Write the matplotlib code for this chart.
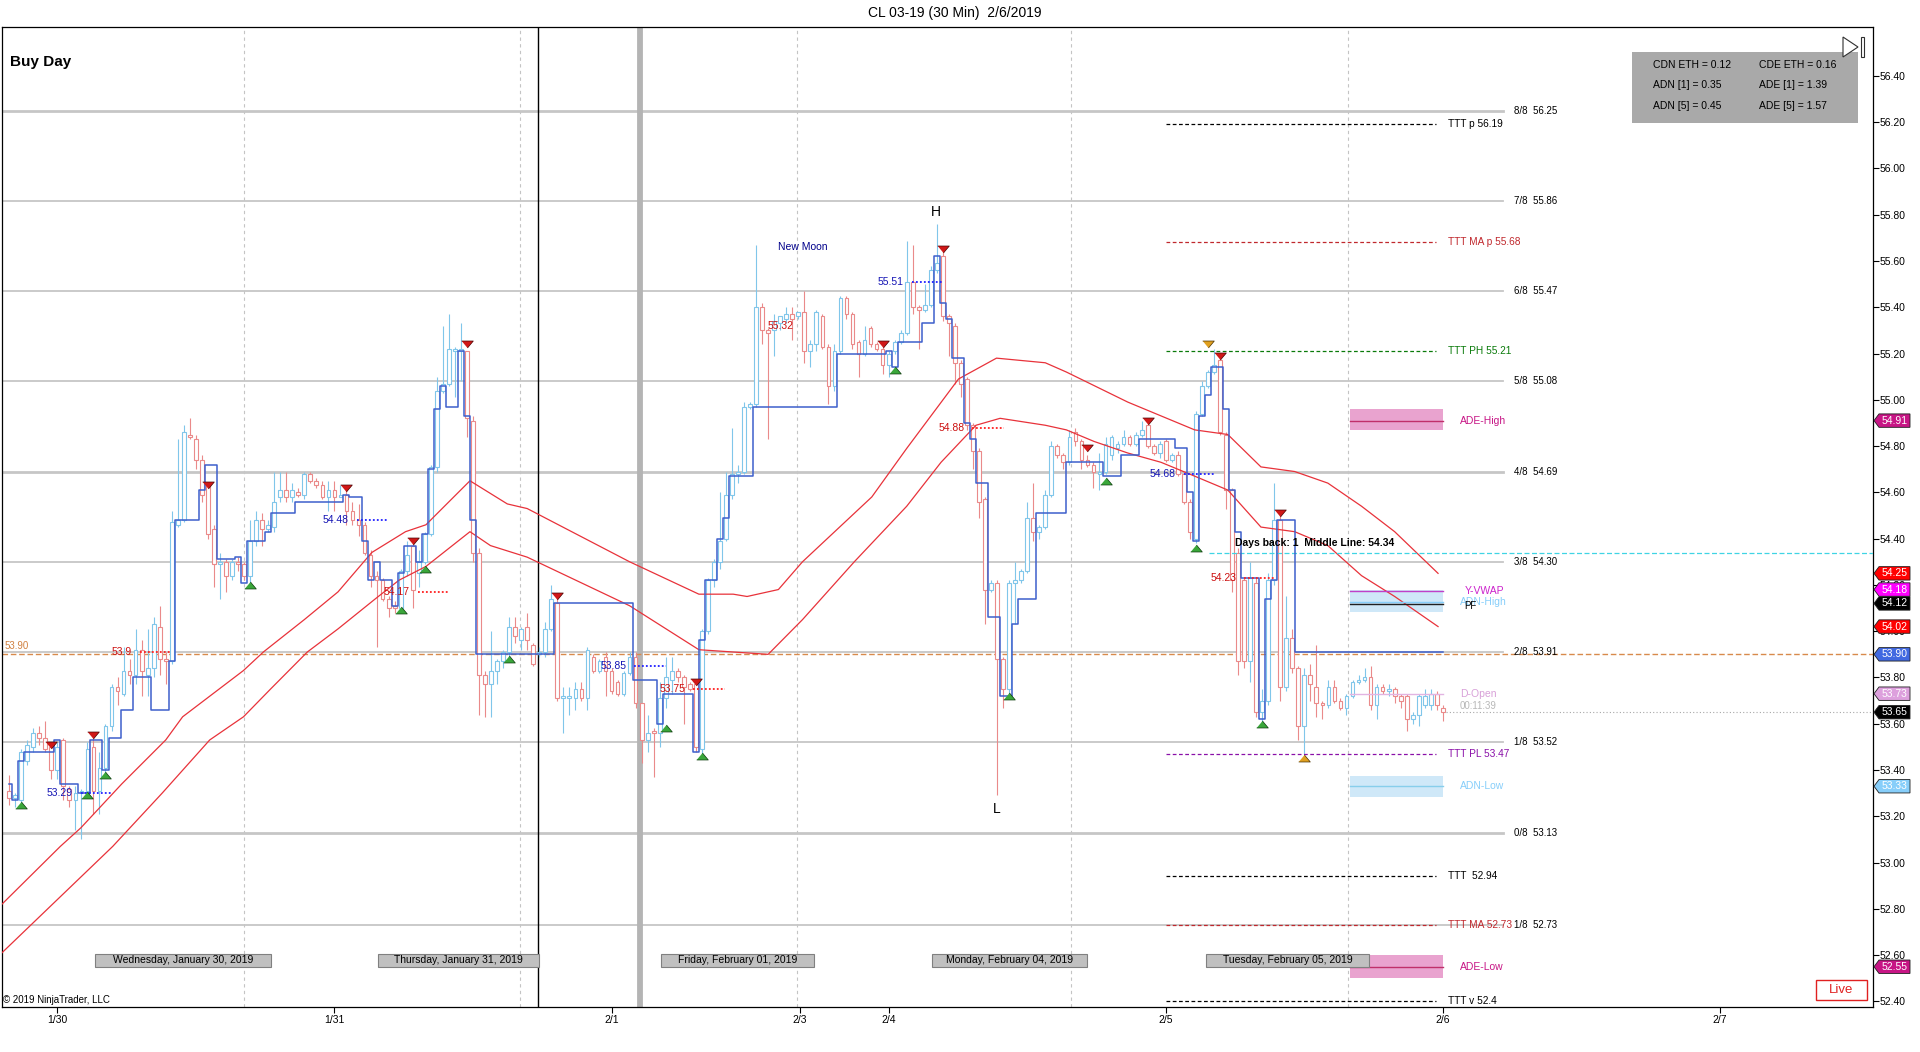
import matplotlib
matplotlib.use('Agg')
import matplotlib.pyplot as plt
from matplotlib.patches import Rectangle, Polygon
from matplotlib.transforms import blended_transform_factory
import numpy as np

plt.rcParams['font.family'] = ['Liberation Sans', 'DejaVu Sans']

# ---------------- data (30 min bars, index 0 = 1/30 00:00) ----------------
first_bar = -8
opens = [53.31, 53.28, 53.27, 53.44, 53.50, 53.56, 53.54, 53.50, 53.40, 53.53,
         53.32, 53.27, 53.30, 53.31, 53.50, 53.31, 53.41, 53.59, 53.76, 53.73,
         53.83, 53.81, 53.92, 53.81, 53.84, 54.02, 53.88, 53.87, 54.46, 54.48,
         54.85, 54.83, 54.74, 54.63, 54.44, 54.29, 54.30, 54.24, 54.30, 54.29,
         54.24, 54.39, 54.48, 54.44, 54.45, 54.58, 54.61, 54.58, 54.60, 54.59,
         54.68, 54.65, 54.63, 54.58, 54.61, 54.58, 54.59, 54.52, 54.48, 54.46,
         54.33, 54.24, 54.22, 54.14, 54.11, 54.10, 54.26, 54.37, 54.25, 54.30,
         54.42, 54.71, 55.04, 55.07, 55.21, 55.21, 55.21, 54.91, 54.34, 53.81,
         53.77, 53.83, 53.87, 53.91, 54.02, 53.96, 54.02, 53.94, 53.90, 53.91,
         54.01, 54.12, 53.71, 53.71, 53.71, 53.75, 53.71, 53.89, 53.83, 53.89,
         53.83, 53.78, 53.73, 53.82, 53.89, 53.69, 53.53, 53.57, 53.56, 53.71,
         53.79, 53.83, 53.80, 53.77, 53.77, 53.49, 54.00, 54.22, 54.30, 54.40,
         54.59, 54.68, 54.69, 54.97, 54.98, 55.40, 55.30, 55.30, 55.33, 55.35,
         55.37, 55.36, 55.38, 55.21, 55.24, 55.36, 55.23, 55.06, 55.21, 55.44,
         55.37, 55.25, 55.20, 55.31, 55.24, 55.22, 55.15, 55.21, 55.25, 55.29,
         55.51, 55.40, 55.39, 55.41, 55.56, 55.62, 55.36, 55.32, 55.16, 55.09,
         54.89, 54.78, 54.57, 54.18, 54.21, 53.88, 53.75, 54.21, 54.22, 54.26,
         54.49, 54.43, 54.45, 54.59, 54.80, 54.76, 54.73, 54.86, 54.82, 54.74,
         54.72, 54.68, 54.69, 54.76, 54.79, 54.81, 54.84, 54.81, 54.85, 54.89,
         54.80, 54.77, 54.82, 54.74, 54.76, 54.68, 54.56, 54.40, 54.94, 55.06,
         55.12, 55.17, 54.85, 54.61, 54.34, 54.22, 53.87, 54.21, 53.65, 53.70,
         54.22, 54.48, 53.76, 53.97, 53.84, 53.59, 53.81, 53.76, 53.69, 53.68,
         53.76, 53.70, 53.67, 53.72, 53.78, 53.79, 53.80, 53.68, 53.76, 53.74,
         53.75, 53.72, 53.72, 53.62, 53.64, 53.68, 53.68, 53.73, 53.67]
highs = [53.38, 53.30, 53.49, 53.53, 53.58, 53.59, 53.61, 53.52, 53.52, 53.54,
         53.33, 53.33, 53.32, 53.52, 53.54, 53.48, 53.60, 53.77, 53.80, 53.93,
         53.88, 54.01, 53.96, 54.01, 54.06, 54.11, 53.91, 54.52, 54.83, 54.89,
         54.92, 54.85, 54.76, 54.64, 54.46, 54.34, 54.31, 54.31, 54.32, 54.30,
         54.48, 54.52, 54.51, 54.48, 54.69, 54.69, 54.69, 54.64, 54.62, 54.69,
         54.69, 54.66, 54.65, 54.65, 54.65, 54.63, 54.62, 54.56, 54.55, 54.47,
         54.35, 54.26, 54.23, 54.15, 54.13, 54.27, 54.39, 54.40, 54.35, 54.43,
         54.72, 55.10, 55.32, 55.37, 55.23, 55.33, 55.21, 54.93, 54.36, 53.83,
         54.00, 53.88, 53.92, 54.06, 54.06, 54.02, 54.08, 53.95, 53.93, 54.04,
         54.20, 54.15, 53.76, 53.76, 53.78, 53.78, 53.93, 53.90, 53.88, 53.91,
         53.84, 53.79, 53.83, 53.91, 53.91, 53.69, 53.64, 53.58, 53.78, 53.89,
         53.89, 53.84, 53.81, 53.78, 53.78, 54.01, 54.23, 54.31, 54.60, 54.69,
         54.88, 54.72, 54.99, 54.99, 55.67, 55.42, 55.31, 55.37, 55.36, 55.40,
         55.40, 55.38, 55.47, 55.26, 55.39, 55.37, 55.24, 55.24, 55.45, 55.45,
         55.38, 55.26, 55.32, 55.32, 55.25, 55.23, 55.21, 55.26, 55.30, 55.685,
         55.67, 55.41, 55.50, 55.58, 55.76, 55.65, 55.37, 55.33, 55.17, 55.10,
         54.90, 54.79, 54.58, 54.22, 54.22, 53.89, 54.22, 54.30, 54.27, 54.56,
         54.64, 54.46, 54.61, 54.82, 54.81, 54.77, 54.87, 54.88, 54.83, 54.76,
         54.73, 54.77, 54.84, 54.85, 54.82, 54.87, 54.85, 54.86, 54.91, 54.91,
         54.81, 54.82, 54.83, 54.77, 54.78, 54.69, 54.57, 54.95, 55.08, 55.13,
         55.22, 55.19, 54.86, 54.62, 54.36, 54.23, 54.30, 54.23, 53.75, 54.25,
         54.64, 54.50, 54.15, 54.01, 53.85, 53.84, 53.86, 53.94, 53.70, 53.79,
         53.79, 53.71, 53.73, 53.79, 53.81, 53.84, 53.85, 53.77, 53.77, 53.77,
         53.76, 53.73, 53.73, 53.65, 53.73, 53.75, 53.75, 53.74, 53.68]
lows = [53.25, 53.24, 53.25, 53.42, 53.48, 53.51, 53.48, 53.36, 53.36, 53.27,
        53.24, 53.14, 53.10, 53.29, 53.21, 53.21, 53.38, 53.57, 53.68, 53.72,
        53.77, 53.77, 53.72, 53.72, 53.80, 53.81, 53.77, 53.86, 54.45, 54.47,
        54.83, 54.70, 54.56, 54.40, 54.19, 54.14, 54.17, 54.22, 54.26, 54.22,
        54.21, 54.37, 54.37, 54.43, 54.43, 54.56, 54.56, 54.56, 54.58, 54.57,
        54.64, 54.62, 54.57, 54.52, 54.52, 54.58, 54.46, 54.46, 54.41, 54.33,
        54.19, 53.93, 54.13, 54.06, 54.08, 54.08, 54.24, 54.10, 54.19, 54.29,
        54.41, 54.69, 55.03, 55.06, 55.01, 55.08, 54.84, 54.30, 53.64, 53.63,
        53.63, 53.77, 53.84, 53.89, 53.95, 53.92, 53.92, 53.85, 53.89, 53.89,
        54.00, 53.70, 53.56, 53.64, 53.66, 53.70, 53.66, 53.82, 53.82, 53.72,
        53.73, 53.72, 53.72, 53.81, 53.67, 53.43, 53.48, 53.37, 53.50, 53.67,
        53.73, 53.78, 53.60, 53.74, 53.48, 53.47, 53.99, 54.19, 54.27, 54.39,
        54.57, 54.64, 54.68, 54.96, 54.97, 55.24, 54.83, 55.19, 55.30, 55.33,
        55.26, 55.35, 55.16, 55.14, 55.21, 55.22, 54.98, 55.04, 55.20, 55.35,
        55.22, 55.10, 55.19, 55.23, 55.21, 55.11, 55.10, 55.20, 55.24, 55.28,
        55.37, 55.22, 55.38, 55.40, 55.55, 55.34, 55.19, 55.07, 55.01, 54.87,
        54.70, 54.49, 54.03, 54.17, 53.29, 53.67, 53.71, 54.03, 54.21, 54.25,
        54.39, 54.40, 54.44, 54.58, 54.75, 54.70, 54.72, 54.80, 54.70, 54.71,
        54.62, 54.61, 54.68, 54.74, 54.77, 54.80, 54.80, 54.80, 54.84, 54.79,
        54.76, 54.75, 54.73, 54.73, 54.67, 54.55, 54.40, 54.38, 54.93, 55.05,
        55.11, 54.85, 54.53, 54.17, 53.81, 53.84, 53.78, 53.63, 53.60, 53.68,
        54.20, 53.70, 53.74, 53.82, 53.53, 53.47, 53.70, 53.63, 53.62, 53.67,
        53.69, 53.66, 53.64, 53.71, 53.77, 53.78, 53.66, 53.62, 53.73, 53.72,
        53.69, 53.67, 53.57, 53.60, 53.59, 53.67, 53.66, 53.66, 53.61]
closes = [53.28, 53.29, 53.48, 53.51, 53.56, 53.54, 53.49, 53.40, 53.50, 53.33,
          53.27, 53.30, 53.31, 53.49, 53.31, 53.41, 53.59, 53.76, 53.74, 53.83,
          53.81, 53.92, 53.83, 53.84, 54.03, 53.88, 53.87, 54.47, 54.48, 54.86,
          54.84, 54.74, 54.59, 54.42, 54.29, 54.30, 54.24, 54.30, 54.29, 54.24,
          54.39, 54.48, 54.44, 54.46, 54.56, 54.61, 54.58, 54.61, 54.59, 54.68,
          54.65, 54.63, 54.58, 54.61, 54.58, 54.59, 54.52, 54.48, 54.46, 54.34,
          54.24, 54.22, 54.14, 54.10, 54.10, 54.26, 54.33, 54.18, 54.30, 54.42,
          54.71, 55.04, 55.07, 55.22, 55.22, 55.22, 54.92, 54.34, 53.81, 53.77,
          53.83, 53.87, 53.91, 54.02, 53.98, 54.01, 53.96, 53.86, 53.91, 54.01,
          54.14, 53.71, 53.72, 53.72, 53.75, 53.71, 53.92, 53.83, 53.87, 53.83,
          53.74, 53.73, 53.82, 53.89, 53.69, 53.53, 53.56, 53.56, 53.71, 53.80,
          53.83, 53.80, 53.76, 53.75, 53.50, 54.00, 54.22, 54.30, 54.39, 54.59,
          54.68, 54.69, 54.97, 54.98, 55.40, 55.30, 55.29, 55.34, 55.36, 55.37,
          55.35, 55.38, 55.21, 55.24, 55.38, 55.23, 55.06, 55.21, 55.44, 55.37,
          55.24, 55.20, 55.26, 55.24, 55.22, 55.15, 55.20, 55.25, 55.29, 55.51,
          55.40, 55.39, 55.41, 55.56, 55.59, 55.36, 55.33, 55.16, 55.07, 54.89,
          54.78, 54.56, 54.18, 54.21, 53.88, 53.75, 54.21, 54.22, 54.26, 54.49,
          54.43, 54.45, 54.59, 54.80, 54.76, 54.73, 54.84, 54.82, 54.74, 54.72,
          54.69, 54.69, 54.81, 54.84, 54.81, 54.84, 54.81, 54.85, 54.87, 54.80,
          54.77, 54.81, 54.74, 54.76, 54.68, 54.56, 54.43, 54.94, 55.06, 55.12,
          55.15, 54.86, 54.61, 54.22, 53.87, 53.87, 54.23, 53.65, 53.70, 54.22,
          54.48, 53.76, 53.97, 53.84, 53.59, 53.81, 53.77, 53.69, 53.68, 53.76,
          53.70, 53.67, 53.72, 53.78, 53.79, 53.80, 53.68, 53.76, 53.74, 53.75,
          53.72, 53.70, 53.62, 53.64, 53.72, 53.72, 53.73, 53.68, 53.65]

# stepped swing line: level and number of bars it holds
step_levels = [53.34, 53.27, 53.44, 53.48, 53.53, 53.34, 53.30, 53.53, 53.40, 53.54,
               53.66, 53.80, 53.66, 53.87, 54.48, 54.61, 54.72, 54.31, 54.32, 54.21,
               54.39, 54.43, 54.51, 54.56, 54.59, 54.58, 54.39, 54.22, 54.30, 54.22,
               54.11, 54.25, 54.37, 54.30, 54.42, 54.70, 54.96, 55.06, 54.97, 55.21,
               54.93, 54.48, 53.90, 54.12, 53.79, 53.60, 53.73, 53.48, 53.96, 54.22,
               54.40, 54.49, 54.67, 54.97, 55.20, 55.21, 55.14, 55.25, 55.33, 55.62,
               55.42, 55.35, 55.18, 54.90, 54.83, 54.64, 54.06, 53.72, 54.03, 54.14,
               54.51, 54.73, 54.67, 54.76, 54.83, 54.79, 54.60, 54.39, 54.93, 55.02,
               55.14, 54.96, 54.61, 54.43, 54.23, 53.62, 54.14, 54.22, 54.48, 53.91]
step_lengths = [1, 1, 1, 5, 1, 3, 2, 2, 1, 2,
                2, 3, 3, 1, 4, 1, 2, 3, 1, 1,
                3, 1, 4, 8, 1, 2, 1, 1, 1, 2,
                1, 1, 2, 1, 1, 1, 1, 1, 2, 1,
                1, 1, 13, 13, 4, 1, 5, 1, 1, 2,
                1, 1, 4, 14, 8, 1, 1, 4, 2, 1,
                1, 1, 2, 1, 1, 2, 2, 2, 1, 3,
                5, 6, 3, 3, 6, 2, 1, 1, 1, 1,
                2, 1, 1, 1, 3, 1, 1, 1, 3, 25]

# two red average lines (read at points)
ma_hi_x = [-9.2, 0.5, 3.9, 10.7, 18, 20.8, 30.9, 34.2, 41, 46.6, 52.2, 57.8, 61.2, 63.5,
           68.5, 74.7, 78, 95, 106.5, 112.2, 114.5, 119.7, 123.7, 135.2, 141, 149.6,
           155.9, 164, 167.5, 177.7, 188.8, 194.3, 199.8, 205.4, 210.9, 216.5, 222, 229.2]
ma_hi_y = [52.82, 53.07, 53.15, 53.34, 53.53, 53.63, 53.83, 53.91, 54.05, 54.17, 54.34,
           54.43, 54.46, 54.52, 54.65, 54.55, 54.53, 54.30, 54.16, 54.16, 54.15, 54.18,
           54.30, 54.58, 54.79, 55.09, 55.18, 55.16, 55.12, 54.99, 54.87, 54.85, 54.71,
           54.69, 54.64, 54.54, 54.43, 54.25]
ma_lo_x = [-9.2, 9.2, 17.4, 25.3, 30.9, 35.4, 41.5, 46.6, 52.8, 56.7, 61.2, 68.5, 71.9,
           78, 95, 106.5, 118, 123.7, 132.3, 141, 146.7, 152.5, 156.5, 164, 167.5, 172.1,
           177.7, 183.2, 188.8, 194.3, 199.8, 205.4, 210.9, 216.5, 222, 229.2]
ma_lo_y = [52.61, 53.07, 53.30, 53.53, 53.63, 53.75, 53.91, 54.01, 54.14, 54.22, 54.28,
           54.43, 54.37, 54.32, 54.11, 53.92, 53.90, 54.05, 54.30, 54.54, 54.73, 54.89,
           54.92, 54.89, 54.87, 54.82, 54.77, 54.73, 54.67, 54.61, 54.45, 54.43, 54.37,
           54.24, 54.15, 54.02]

# swing markers
swing_hi_x = [-1, 6, 25, 48, 59, 68, 83, 106, 137, 147, 171, 181, 193, 203]
swing_hi_y = [53.51, 53.55, 54.63, 54.62, 54.39, 55.24, 54.15, 53.78, 55.24, 55.65,
              54.79, 54.91, 55.19, 54.51]
swing_lo_x = [-6, 5, 8, 32, 57, 61, 75, 101, 107, 139, 158, 174, 189, 200]
swing_lo_y = [53.25, 53.29, 53.38, 54.20, 54.09, 54.27, 53.88, 53.58, 53.46, 55.13,
              53.72, 54.65, 54.36, 53.60]
ttt_hi_x, ttt_hi_y = [191], [55.24]
ttt_lo_x, ttt_lo_y = [207], [53.45]

# swing price labels with dotted extension
lbl_x = [3.9, 13.7, 49.7, 59.8, 95.8, 105.6, 141.8, 151.9, 187, 197]
lbl_val = [53.30, 53.91, 54.48, 54.17, 53.85, 53.75, 55.51, 54.88, 54.68, 54.23]
lbl_txt = ['53.29', '53.9', '54.48', '54.17', '53.85', '53.75', '55.51', '54.88', '54.68', '54.23']
lbl_kind = ['lo', 'hi', 'lo', 'hi', 'lo', 'hi', 'lo', 'hi', 'lo', 'hi']

# Murrey math levels
murrey_names = ['8/8', '7/8', '6/8', '5/8', '4/8', '3/8', '2/8', '1/8', '0/8', '1/8']
murrey_levels = [56.25, 55.86, 55.47, 55.08, 54.69, 54.30, 53.91, 53.52, 53.13, 52.73]

# TTT projection lines
ttt_vals = [56.19, 55.68, 55.21, 53.47, 52.94, 52.73, 52.40]
ttt_txt = ['TTT p 56.19', 'TTT MA p 55.68', 'TTT PH 55.21', 'TTT PL 53.47',
           'TTT  52.94', 'TTT MA 52.73', 'TTT v 52.4']
ttt_col = ['black', '#c0282d', '#0a7a0a', '#8a10a8', 'black', '#c0282d', 'black']

# right axis price tags
tag_vals = [54.91, 54.25, 54.18, 54.12, 54.02, 53.90, 53.73, 53.65, 53.33, 52.55]
tag_cols = ['#c71585', '#ff0000', '#ff00ff', '#000000', '#ff0000', '#4169e1',
            '#dda0dd', '#000000', '#87cefa', '#c71585']

# day session boxes
day_names = ['Wednesday, January 30, 2019', 'Thursday, January 31, 2019',
             'Friday, February 01, 2019', 'Monday, February 04, 2019',
             'Tuesday, February 05, 2019']
day_x0 = [6.3, 53.3, 100.2, 145.2, 190.7]
day_x1 = [35.5, 80.0, 125.6, 171.0, 217.7]

tick_pos = [0, 46, 92, 123.3, 138, 184, 230, 276]
tick_lbl = ['1/30', '1/31', '2/1', '2/3', '2/4', '2/5', '2/6', '2/7']
vgrid_x = [31, 76.8, 122.8, 168.3, 214.2]

info_left = ['CDN ETH = 0.12', 'ADN [1] = 0.35', 'ADN [5] = 0.45']
info_right = ['CDE ETH = 0.16', 'ADE [1] = 1.39', 'ADE [5] = 1.57']

# ---------------- figure ----------------
W, H = 1920, 1052
fig = plt.figure(figsize=(W / 100, H / 100), dpi=100)
ax = fig.add_axes([2 / W, 45 / H, 1871 / W, 980 / H])
x_left, x_right = -9.18, 301.4
ax.set_xlim(x_left, x_right)
ax.set_ylim(52.376, 56.611)

opens, highs, lows, closes = map(np.array, (opens, highs, lows, closes))
bars = np.arange(first_bar, first_bar + len(closes))

# murrey lines
murrey_end, murrey_lx = 240.0, 241.8
for name, lvl in zip(murrey_names, murrey_levels):
    thick = lvl in (56.25, 54.69, 53.13)
    ax.plot([x_left, murrey_end], [lvl, lvl], color='#c6c6c6', lw=2.0 if thick else 1.3, zorder=1)
    ax.text(murrey_lx, lvl, f'{name}  {lvl:.2f}', fontsize=7, ha='left', va='center', zorder=6)

# vertical lines
for gx in vgrid_x:
    ax.axvline(gx, color='#c4c4c4', lw=0.8, ls=(0, (3, 3)), zorder=0.5)
ax.axvline(79.8, color='black', lw=1.0, zorder=1)
ax.axvline(96.7, color='#b4b4b4', lw=4.2, zorder=1)

# 53.90 reference line
ax.plot([x_left, x_right], [53.90, 53.90], color='#d88a4c', lw=1.0, ls=(0, (4, 2)), zorder=1.5)
ax.text(-8.8, 53.935, '53.90', color='#d08040', fontsize=7, ha='left', va='center')

# candles
UP, DN = '#80c6ea', '#ea8a8a'
up = closes >= opens
col = np.where(up, UP, DN)
ax.vlines(bars, lows, highs, colors=col, lw=0.8, zorder=2)
body_lo = np.minimum(opens, closes)
body_h = np.maximum(np.abs(closes - opens), 0.006)
ax.bar(bars, body_h, bottom=body_lo, width=0.62, facecolor='white', edgecolor=col,
       linewidth=0.8, zorder=3)

# averages
ax.plot(ma_hi_x, ma_hi_y, color='#e8323a', lw=0.9, zorder=4)
ax.plot(ma_lo_x, ma_lo_y, color='#e8323a', lw=0.9, zorder=4)

# step line
step_vals = np.repeat(step_levels, step_lengths)
ax.plot(bars, step_vals, drawstyle='steps-mid', color='#3d5fcc', lw=1.1, zorder=5)

# swing triangles
down_tri = [(-1, 0.6), (1, 0.6), (0, -0.6)]
up_tri = [(-1, -0.6), (1, -0.6), (0, 0.6)]
ax.scatter(swing_hi_x, swing_hi_y, marker=down_tri, s=70, c='#d01818', edgecolors='#4a0000',
           linewidths=0.5, zorder=7)
ax.scatter(swing_lo_x, swing_lo_y, marker=up_tri, s=70, c='#3aa63a', edgecolors='#0a3a0a',
           linewidths=0.5, zorder=7)
ax.scatter(ttt_hi_x, ttt_hi_y, marker=down_tri, s=70, c='#e0a020', edgecolors='#4a3000',
           linewidths=0.5, zorder=7)
ax.scatter(ttt_lo_x, ttt_lo_y, marker=up_tri, s=70, c='#e0a020', edgecolors='#4a3000',
           linewidths=0.5, zorder=7)

# swing value labels
for xs, val, txt, kind in zip(lbl_x, lbl_val, lbl_txt, lbl_kind):
    lc, tc = ('#2020ff', '#1414b4') if kind == 'lo' else ('#ff2020', '#cc1010')
    ax.plot([xs, xs + 5.2], [val, val], color=lc, lw=1.3, ls=(0, (1, 1.2)), zorder=6)
    ax.text(xs - 1.3, val, txt, color=tc, fontsize=7.5, ha='right', va='center', zorder=6)
ax.text(122.3, 55.32, '55.32', color='#cc1010', fontsize=7.5, ha='right', va='center', zorder=6)

# TTT lines
for val, txt, c in zip(ttt_vals, ttt_txt, ttt_col):
    ax.plot([184.1, 228.9], [val, val], color=c, lw=0.9, ls=(0, (3, 2)), zorder=4)
    ax.text(230.8, val, txt, color=c, fontsize=7.3, ha='left', va='center', zorder=6)

# ADE / ADN zones
bx0, bx1 = 214.6, 230.0
zones = [(54.87, 54.96, '#e9a3cf'), (54.085, 54.18, '#cfe8f8'),
         (53.285, 53.375, '#cfe8f8'), (52.50, 52.60, '#e9a3cf')]
for lo, hi, fc in zones:
    ax.add_patch(Rectangle((bx0, lo), bx1 - bx0, hi - lo, facecolor=fc, edgecolor='none', zorder=2.5))
for val, c in [(54.91, '#c0306a'), (54.175, '#c040c8'), (54.128, '#87cefa'),
               (54.117, '#202020'), (53.33, '#87ceeb'), (52.55, '#c0306a'), (53.73, '#e2b4e2')]:
    ax.plot([bx0, bx1], [val, val], color=c, lw=1.0, zorder=4)
lx = 232.8
ax.text(lx, 54.91, 'ADE-High', color='#c71585', fontsize=7.5, va='center')
ax.text(233.6, 54.175, 'Y-VWAP', color='#cc22cc', fontsize=7.5, va='center')
ax.text(lx, 54.125, 'ADN-High', color='#87cefa', fontsize=7.5, va='center')
ax.text(233.5, 54.108, 'PF', color='black', fontsize=7, va='center')
ax.text(lx, 53.73, 'D-Open', color='#d8a0d8', fontsize=7.5, va='center')
ax.text(lx, 53.675, '00:11:39', color='#b8b8b8', fontsize=7, va='center')
ax.text(lx, 53.33, 'ADN-Low', color='#87cefa', fontsize=7.5, va='center')
ax.text(lx, 52.55, 'ADE-Low', color='#c71585', fontsize=7.5, va='center')

# middle line
ax.plot([191.2, x_right], [54.34, 54.34], color='#40d4e4', lw=0.9, ls=(0, (4, 2)), zorder=4)
ax.text(195.5, 54.38, 'Days back: 1  Middle Line: 54.34', fontsize=7.5, fontweight='bold',
        ha='left', va='center', zorder=8)

# last price line
ax.plot([230.5, x_right], [53.65, 53.65], color='#a8a8a8', lw=0.8, ls=(0, (1, 2)), zorder=4)

# day boxes
for name, d0, d1 in zip(day_names, day_x0, day_x1):
    ax.add_patch(Rectangle((d0, 52.547), d1 - d0, 0.06, facecolor='#c0c0c0', edgecolor='#808080',
                           lw=0.8, zorder=6))
    ax.text((d0 + d1) / 2, 52.577, name, fontsize=7.5, ha='center', va='center', zorder=7)

# annotations
ax.text(123.7, 55.66, 'New Moon', color='#00008b', fontsize=7.5, ha='center', va='center')
ax.text(145.8, 55.81, 'H', fontsize=10, ha='center', va='center')
ax.text(156.0, 53.23, 'L', fontsize=10, ha='center', va='center')
ax.text(x_left + 0.2, 52.406, '\u00a9 2019 NinjaTrader, LLC', fontsize=7, ha='left', va='center')

# axes styling
for sp in ax.spines.values():
    sp.set_color('black')
    sp.set_linewidth(0.9)
ax.yaxis.tick_right()
ax.set_yticks(np.round(np.arange(52.4, 56.41, 0.2), 2))
ax.set_yticklabels([f'{v:.2f}' for v in np.arange(52.4, 56.41, 0.2)])
ax.tick_params(axis='y', direction='out', length=4, pad=1, labelsize=7.5, width=0.8)
ax.set_xticks(tick_pos)
ax.set_xticklabels(tick_lbl)
ax.tick_params(axis='x', direction='out', length=4, pad=2, labelsize=7.5, width=0.8)

# price tags on the right axis
trans = blended_transform_factory(ax.transAxes, ax.transData)
px = 1 / 1871
th = 0.029
for p, fc in zip(tag_vals, tag_cols):
    verts = [(1 + 1 * px, p), (1 + 6 * px, p + th), (1 + 37 * px, p + th),
             (1 + 37 * px, p - th), (1 + 6 * px, p - th)]
    ax.add_patch(Polygon(verts, closed=True, transform=trans, facecolor=fc, edgecolor='#202020',
                         lw=0.6, clip_on=False, zorder=10))
    ax.text(1 + 22 * px, p, f'{p:.2f}', transform=trans, ha='center', va='center', fontsize=7.5,
            color='white', zorder=11, clip_on=False)

# figure level texts
def fx(x):
    return x / W


def fy(y):
    return 1 - y / H


fig.text(fx(955), fy(13), 'CL 03-19 (30 Min)  2/6/2019', ha='center', va='center', fontsize=10)
fig.text(fx(10), fy(62), 'Buy Day', ha='left', va='center', fontsize=11, fontweight='bold')

fig.add_artist(Rectangle((fx(1632), fy(123)), fx(226), 71 / H, transform=fig.transFigure,
                         facecolor='#a9a9a9', edgecolor='none'))
for k, (a, b) in enumerate(zip(info_left, info_right)):
    yy = fy(65 + 20.5 * k)
    fig.text(fx(1653), yy, a, fontsize=7.5, ha='left', va='center')
    fig.text(fx(1759), yy, b, fontsize=7.5, ha='left', va='center')

fig.add_artist(Polygon([(fx(1843), fy(37)), (fx(1858), fy(47)), (fx(1843), fy(57))], closed=True,
                       transform=fig.transFigure, facecolor='white', edgecolor='#303030', lw=0.8))
fig.add_artist(Rectangle((fx(1861), fy(57)), fx(3), 20 / H, transform=fig.transFigure,
                         facecolor='white', edgecolor='#303030', lw=0.8))

fig.add_artist(Rectangle((fx(1816), fy(1000)), fx(51), 20 / H, transform=fig.transFigure,
                         facecolor='white', edgecolor='#e02020', lw=1.0, zorder=12))
fig.text(fx(1841), fy(990), 'Live', color='#e02020', fontsize=9.5, ha='center', va='center',
         zorder=13)

fig.savefig('out.png', dpi=100, facecolor='white')
